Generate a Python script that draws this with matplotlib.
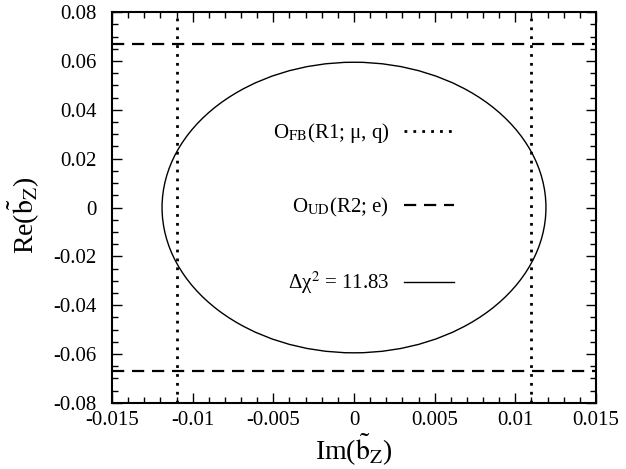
"""Constraint plot: Im(b_Z) vs Re(b_Z) with observable limits"""

import matplotlib
matplotlib.use("Agg")
from matplotlib import pyplot as plt
from matplotlib.patches import Ellipse
from matplotlib.lines import Line2D
from matplotlib.ticker import MultipleLocator

plt.rcParams["font.family"] = ["Liberation Serif", "DejaVu Serif"]
plt.rcParams["mathtext.fontset"] = "stix"

# limits from the two observables
im_limits = [-0.011, 0.011]     # O_FB(R1; mu, q), vertical dotted
re_limits = [-0.067, 0.067]     # O_UD(R2; e), horizontal dashed

# delta chi^2 = 11.83 contour
ellipse_center = (0.0, 0.0)
ellipse_semi_axes = (0.0119, 0.0595)

labels = [
    r"O$_{\rm FB}$(R1; μ, q)",
    r"O$_{\rm UD}$(R2; e)",
    r"Δχ$^{2}$ = 11.83",
]

DOT = (0, (1, 2.2))
DASH = (0, (5.5, 3.5))

fig = plt.figure(figsize=(6.26, 4.69), dpi=100)
ax = fig.add_axes([0.179, 0.141, 0.773, 0.833])

for x in im_limits:
    ax.axvline(x, color="black", linestyle=DOT, linewidth=2)
for y in re_limits:
    ax.axhline(y, color="black", linestyle=DASH, linewidth=1.6)

ell = Ellipse(ellipse_center, 2 * ellipse_semi_axes[0], 2 * ellipse_semi_axes[1],
              fill=False, edgecolor="black", linewidth=1.0)
ax.add_patch(ell)

ax.set_xlim(-0.015, 0.015)
ax.set_ylim(-0.08, 0.08)
ax.xaxis.set_major_locator(MultipleLocator(0.005))
ax.xaxis.set_minor_locator(MultipleLocator(0.001))
ax.yaxis.set_major_locator(MultipleLocator(0.02))
ax.yaxis.set_minor_locator(MultipleLocator(0.005))
ax.set_xticklabels([f"{v:g}" for v in ax.get_xticks()])
ax.set_yticklabels([f"{v:g}" for v in ax.get_yticks()])
ax.tick_params(which="both", direction="in", top=True, right=True, labelsize=15)
ax.tick_params(which="major", length=7, width=1)
ax.tick_params(which="minor", length=4, width=1)
ax.tick_params(axis="x", pad=6)
ax.tick_params(axis="y", pad=11)
for sp in ax.spines.values():
    sp.set_linewidth(1.5)

ax.set_xlabel(r"Im($\tilde{\rm b}_{\rm Z}$)", fontsize=20)
ax.set_ylabel(r"Re($\tilde{\rm b}_{\rm Z}$)", fontsize=20)
ax.xaxis.set_label_coords(0.5, -0.075)
ax.yaxis.set_label_coords(-0.145, 0.48)

handles = [
    Line2D([], [], color="black", linestyle=DOT, linewidth=2),
    Line2D([], [], color="black", linestyle=DASH, linewidth=1.6),
    Line2D([], [], color="black", linewidth=1.0),
]
ax.legend(handles, labels, loc="upper right", bbox_to_anchor=(0.745, 0.77),
          frameon=False, markerfirst=False, fontsize=15, labelspacing=2.45,
          handlelength=2.4, handletextpad=0.7)

fig.savefig("out.png", dpi=100)
